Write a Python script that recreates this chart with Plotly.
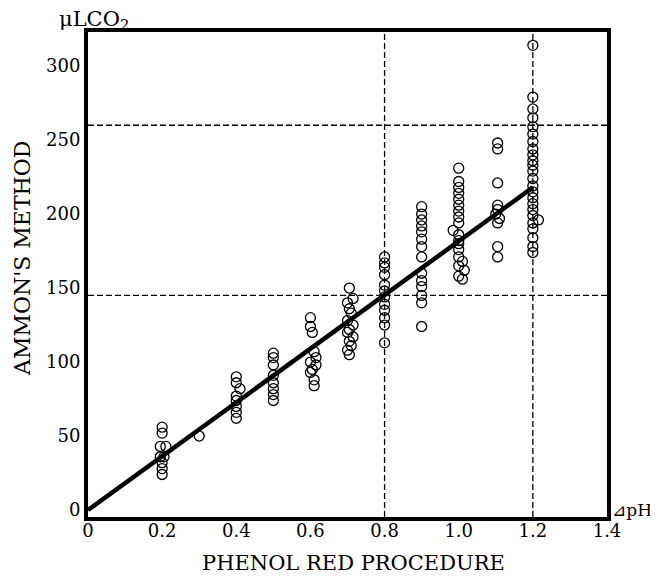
import plotly.graph_objects as go

# ---- data ----
ph_02 = [0.2, 0.2, 0.195, 0.21, 0.195, 0.205, 0.2, 0.2, 0.2]
co2_02 = [56, 52, 43, 43, 36, 36, 32, 28, 24]

ph_03 = [0.3]
co2_03 = [50]

ph_04 = [0.4, 0.4, 0.41, 0.4, 0.4, 0.4, 0.4, 0.4]
co2_04 = [90, 86, 82, 77, 74, 70, 66, 62]

ph_05 = [0.5, 0.5, 0.5, 0.5, 0.5, 0.5, 0.5, 0.5]
co2_05 = [106, 103, 98, 91, 86, 82, 78, 74]

ph_06 = [0.6, 0.6, 0.605, 0.61, 0.615, 0.6, 0.615, 0.605, 0.6, 0.61, 0.61]
co2_06 = [130, 124, 120, 107, 103, 100, 98, 95, 93, 88, 84]

ph_07 = [0.705, 0.715, 0.7, 0.705, 0.71, 0.7, 0.715, 0.705, 0.7, 0.715, 0.705, 0.71, 0.7, 0.705]
co2_07 = [150, 143, 140, 136, 133, 128, 125, 122, 120, 117, 114, 111, 108, 105]

ph_08 = [0.8] * 12
co2_08 = [171, 167, 164, 159, 152, 148, 144, 139, 135, 130, 125, 113]

ph_09 = [0.9] * 14
co2_09 = [205, 200, 196, 192, 188, 183, 178, 171, 160, 155, 151, 145, 140, 124]

ph_10 = [1.0, 1.0, 1.0, 1.0, 1.0, 1.0, 1.0, 1.0, 1.0, 0.985, 1.0, 1.0, 1.0, 1.0, 1.0, 1.01, 1.0, 1.015, 1.0, 1.01]
co2_10 = [231, 222, 218, 214, 210, 206, 202, 198, 194, 189, 186, 182, 180, 176, 171, 168, 165, 162, 158, 156]

ph_11 = [1.105, 1.105, 1.105, 1.105, 1.105, 1.1, 1.11, 1.105, 1.105, 1.105]
co2_11 = [248, 244, 221, 206, 203, 200, 197, 194, 178, 171]

ph_12 = [1.2] * 19 + [1.215] + [1.2] * 5
co2_12 = [314, 279, 271, 265, 259, 254, 249, 244, 240, 236, 233, 229, 224, 219,
          215, 211, 207, 203, 199, 196, 194, 190, 184, 178, 174]

fit_ph = [0, 1.2]
fit_co2 = [0, 218]

ref_ph = [0.8, 1.2]       # vertical dashed reference lines
ref_co2 = [145, 260]      # horizontal dashed reference lines

x_ticks = [0, 0.2, 0.4, 0.6, 0.8, 1.0, 1.2, 1.4]
x_ticktext = ["0", "0.2", "0.4", "0.6", "0.8", "1.0", "1.2", "1.4"]
y_ticks = [0, 50, 100, 150, 200, 250, 300]

# ---- figure ----
all_ph = ph_02 + ph_03 + ph_04 + ph_05 + ph_06 + ph_07 + ph_08 + ph_09 + ph_10 + ph_11 + ph_12
all_co2 = co2_02 + co2_03 + co2_04 + co2_05 + co2_06 + co2_07 + co2_08 + co2_09 + co2_10 + co2_11 + co2_12

FONT = "DejaVu Serif, DejaVu Sans, Liberation Serif, serif"

# plot area in page pixels (page has an 8px body margin)
PL, PR, PT, PB = 88, 607, 32, 517
PW, PH = PR - PL, PB - PT

fig = go.Figure()

for v in ref_ph:
    fig.add_shape(type="line", xref="x", yref="paper", x0=v, x1=v, y0=0, y1=1,
                  line=dict(color="black", width=1.3, dash="6px,3px"), layer="below")
for v in ref_co2:
    fig.add_shape(type="line", xref="paper", yref="y", x0=0, x1=1, y0=v, y1=v,
                  line=dict(color="black", width=1.3, dash="6px,3px"), layer="below")

fig.add_trace(go.Scatter(x=fit_ph, y=fit_co2, mode="lines",
                         line=dict(color="black", width=4.5), hoverinfo="skip",
                         showlegend=False))

fig.add_trace(go.Scatter(x=all_ph, y=all_co2, mode="markers",
                         marker=dict(symbol="circle-open", size=10,
                                     color="black", line=dict(width=1.3, color="black")),
                         showlegend=False))

fig.update_layout(
    width=650, height=569,
    margin=dict(l=PL - 8, r=658 - PR, t=PT - 8, b=577 - PB),
    paper_bgcolor="white", plot_bgcolor="white",
    font=dict(family=FONT, color="black", size=18),
    showlegend=False,
    xaxis=dict(range=[0, 1.4], tickvals=x_ticks, ticktext=x_ticktext,
               showgrid=False, zeroline=False, showline=True, mirror=True,
               linewidth=4, linecolor="black", ticks="", ticklabelstandoff=-6,
               tickfont=dict(family=FONT, size=18, color="black")),
    yaxis=dict(range=[-4.7, 323], tickvals=y_ticks,
               showgrid=False, zeroline=False, showline=True, mirror=True,
               linewidth=4, linecolor="black", ticks="", ticklabelstandoff=0,
               tickfont=dict(family=FONT, size=18, color="black")),
    annotations=[
        dict(text="AMMON'S METHOD", xref="paper", yref="paper",
             x=(22 - PL) / PW, y=(PB - 259) / PH, xanchor="center", yanchor="middle",
             textangle=-90, showarrow=False, font=dict(family=FONT, size=22)),
        dict(text="PHENOL RED PROCEDURE", xref="paper", yref="paper",
             x=(353 - PL) / PW, y=(PB - 563) / PH, xanchor="center", yanchor="middle",
             showarrow=False, font=dict(family=FONT, size=21)),
        dict(text="μLCO<sub>2</sub>", xref="paper", yref="paper",
             x=(57 - PL) / PW, y=(PB - 20) / PH, xanchor="left", yanchor="middle",
             showarrow=False, font=dict(family=FONT, size=21)),
        dict(text="⊿pH", xref="paper", yref="paper",
             x=(610 - PL) / PW, y=(PB - 510) / PH, xanchor="left", yanchor="middle",
             showarrow=False, font=dict(family=FONT, size=17)),
    ],
)

fig.write_html("out.html")
